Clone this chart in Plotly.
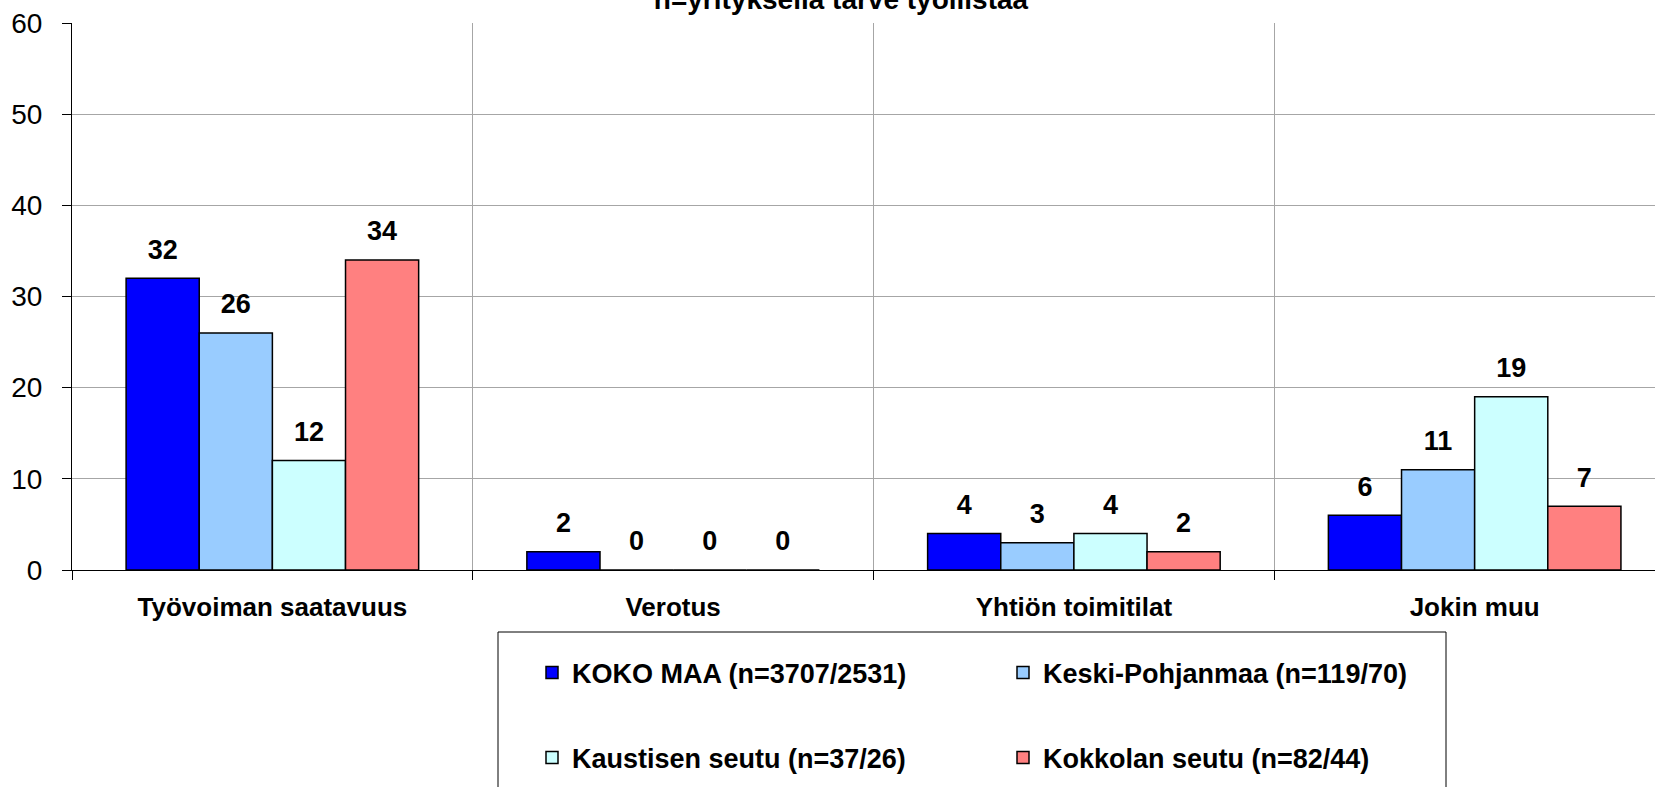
import plotly.graph_objects as go

categories = ["Työvoiman saatavuus", "Verotus", "Yhtiön toimitilat", "Jokin muu"]
series_names = [
    "KOKO MAA (n=3707/2531)",
    "Keski-Pohjanmaa (n=119/70)",
    "Kaustisen seutu (n=37/26)",
    "Kokkolan seutu (n=82/44)",
]
koko_maa = [32, 2, 4, 6]
keski_pohjanmaa = [26, 0, 3, 11]
kaustisen_seutu = [12, 0, 4, 19]
kokkolan_seutu = [34, 0, 2, 7]
y_ticks = [0, 10, 20, 30, 40, 50, 60]

_COLORS = ["#0000FF", "#99CCFF", "#CCFFFF", "#FF8080"]
_FONT = "Liberation Sans, Arial, sans-serif"
_W, _H = 1655, 787
_L, _T, _B = 72, 23, 217
_PH = _H - _T - _B
_PW = _W - _L
_GAP = 0.27

fig = go.Figure()
series = [koko_maa, keski_pohjanmaa, kaustisen_seutu, kokkolan_seutu]
for i, (name, vals) in enumerate(zip(series_names, series)):
    fig.add_trace(go.Bar(
        x=categories, y=vals, name=name,
        marker=dict(color=_COLORS[i], line=dict(color="#000000", width=1.5)),
        legend="legend" if i < 2 else "legend2",
        offsetgroup=str(i),
    ))
# value labels, grouped like the bars; invisible marker keeps them off the bar top
for i, vals in enumerate(series):
    fig.add_trace(go.Scatter(
        x=categories, y=vals, mode="markers+text", text=[str(v) for v in vals],
        textposition="top center", cliponaxis=False, showlegend=False, hoverinfo="skip",
        marker=dict(size=19, opacity=0),
        textfont=dict(family=_FONT, size=27, color="#000000", weight="bold"),
        offsetgroup=str(i),
    ))

# legend frame
fig.add_shape(type="rect", xref="paper", yref="paper",
              x0=(498 - _L) / _PW, x1=(1446 - _L) / _PW,
              y0=(_T + _PH - 830) / _PH, y1=(_T + _PH - 632) / _PH,
              line=dict(color="#000000", width=1), fillcolor="rgba(0,0,0,0)")

_leg = dict(orientation="h", xref="container", yref="container", xanchor="left", yanchor="middle",
            x=532 / _W, entrywidth=426, bgcolor="rgba(0,0,0,0)", borderwidth=0,
            font=dict(family=_FONT, size=27, color="#000000", weight="bold"), traceorder="normal")

fig.update_layout(
    width=_W, height=_H,
    paper_bgcolor="#FFFFFF", plot_bgcolor="#FFFFFF",
    margin=dict(l=_L, r=0, t=_T, b=_B, pad=0, autoexpand=False),
    barmode="group", bargap=_GAP, bargroupgap=0,
    scattermode="group", scattergap=_GAP,
    title=dict(text="<b>n=yrityksellä tarve työllistää</b>", x=841 / _W, xanchor="center",
               y=1 - 9 / _H, yref="container", yanchor="bottom",
               font=dict(family=_FONT, size=28, color="#000000")),
    xaxis=dict(type="category", range=[-0.5, 3.45], tickson="boundaries",
               showgrid=True, gridcolor="#A6A6A6", gridwidth=1,
               ticks="outside", ticklen=9, tickcolor="#000000",
               showline=True, linecolor="#000000", linewidth=1,
               ticklabelstandoff=14, automargin=False,
               tickfont=dict(family=_FONT, size=26, color="#000000", weight="bold")),
    yaxis=dict(range=[0, 60], tickvals=y_ticks, showgrid=True, gridcolor="#A6A6A6", gridwidth=1,
               zeroline=False, ticks="outside", ticklen=9, tickcolor="#000000",
               showline=True, linecolor="#000000", linewidth=1, ticklabelstandoff=14,
               automargin=False,
               tickfont=dict(family=_FONT, size=28, color="#000000")),
    legend=dict(_leg, y=1 - 673 / _H),
    legend2=dict(_leg, y=1 - 758 / _H),
    showlegend=True,
)

fig.write_html("out.html", config={"displayModeBar": False},
               post_script="document.body.style.margin='0';")
